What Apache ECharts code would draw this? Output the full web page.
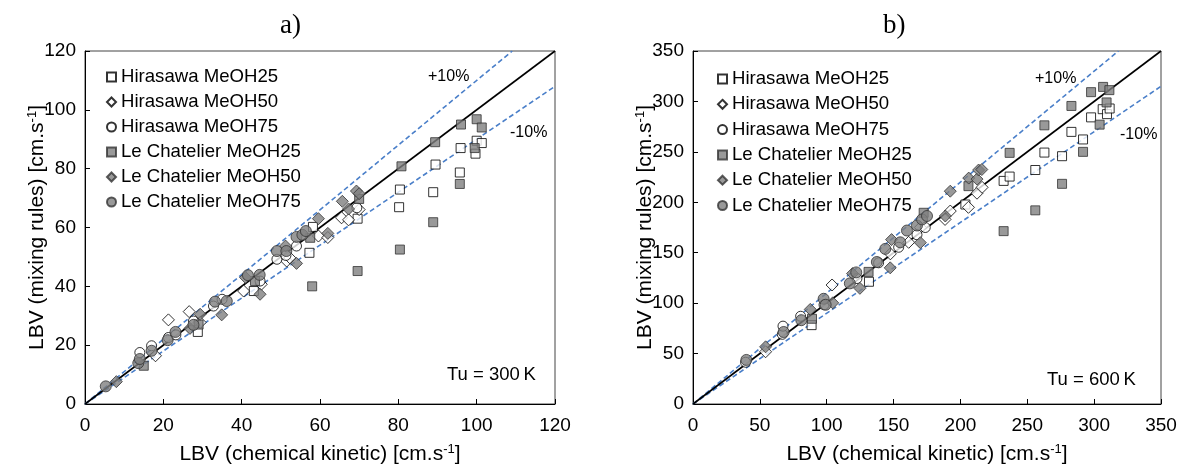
<!DOCTYPE html>
<html><head><meta charset="utf-8">
<script src="https://cdn.jsdelivr.net/npm/echarts@6/dist/echarts.min.js"></script>
<style>html,body{margin:0;padding:0;background:#fff}#c{width:1185px;height:470px}</style>
</head><body><div id="c"></div>
<script>
// ---- data: panel a) Tu = 300 K ----
const h25A = [[28.8,24.5],[43.1,38.4],[57.3,51.4],[58.2,60.2],[69.6,63],[80.4,72.9],[80.2,66.9],[88.9,72],[89.5,81.4],[95.9,87],[95.7,78.7],[100,89.5],[101.3,88.7],[99.7,85.1]];
const h50A = [[18,16.4],[21.3,28.6],[26.6,31.4],[29.4,27.7],[40.5,38.4],[45,40.7],[51.5,48.6],[52.3,49.7],[59.6,57.1],[62,56.6],[65.5,63.3],[67.3,62.6],[70,66.1]];
const h75A = [[14,17.5],[17,19.8],[21.3,22.6],[23.2,23.5],[27.7,28.2],[32.8,33.3],[35,35.6],[44.7,41.8],[49,49.2],[51.3,50.5],[54,53.7],[69.4,66.7]];
const lc25A = [[15,13],[29,27],[43.4,41.8],[57.5,56.5],[70,69.7],[80.8,80.8],[89.4,89],[96,95],[100,96.8],[101.3,94],[99.5,87],[58,40],[69.6,45.2],[80.4,52.5],[88.9,61.8],[95.7,74.8]];
const lc50A = [[8,7.6],[26.8,25.7],[29.4,30.5],[34.9,30.3],[41,43],[44.7,37.3],[51.2,53.7],[54,47.8],[59.6,63],[62,58],[65.7,68.9],[67.3,66.3],[69.3,72.4],[70,71.5]];
const lc75A = [[5.3,6],[13.6,13.9],[14,15.3],[17,18.1],[21.1,21.7],[23.1,24.5],[27.7,26.9],[33.2,34.8],[36.2,35],[41.6,43.8],[44.6,43.9],[49,52],[51.4,52],[54,56.8],[55.5,57.5],[56.4,58.8]];
// ---- data: panel b) Tu = 600 K ----
const h25B = [[88.7,78.2],[131.6,121.2],[203.7,197.8],[232.3,221.2],[236.8,225.5],[256,232],[262.8,249.3],[276,245.7],[283,269.8],[291.7,262.3],[297.7,284.2],[306.4,292.3],[309.6,287.4],[311.6,293]];
const h50B = [[54.3,51.8],[104,118],[147.6,148.9],[161.3,160.3],[170,175],[188.5,183],[192.4,191.3],[206,195],[212.4,209],[216.2,214.8]];
const h75B = [[39.3,41.4],[66.8,69.1],[67.3,77.2],[80.5,87],[98,98.4],[122.6,124.4],[138.8,140],[153.8,155.4],[167.5,167.8],[173.7,175]];
const lc25B = [[89,84.5],[131.3,131],[172.5,189.6],[206,216],[232.3,171.4],[236.8,249],[256,192],[262.8,276.3],[276,218.3],[283,295.5],[291.7,250],[297.7,309.2],[304.1,277],[306.7,314.4],[309.3,299],[311.4,311.2]];
const lc50B = [[54.3,56.7],[87.7,93.8],[104.5,100.3],[119.3,129.3],[124.8,114.7],[147.5,135],[148.5,163],[170,160],[188.7,186.4],[192.4,211],[206.2,224],[212.4,223],[213.6,232],[216,232.5]];
const lc75B = [[39.9,43.7],[67.8,71.4],[81,83.1],[97.7,104.3],[99.2,98.4],[117.3,119.6],[122.1,130.5],[137.5,140.8],[143.8,153.8],[155,160.3],[160,172],[167.5,177],[171.3,183],[175,186.4]];

const seriesNames = ['Hirasawa MeOH25','Hirasawa MeOH50','Hirasawa MeOH75','Le Chatelier MeOH25','Le Chatelier MeOH50','Le Chatelier MeOH75'];
const axisMaxA = 120, axisMaxB = 350;
const tickA = 20, tickB = 50;

const FONT = 'Liberation Sans, Arial, sans-serif';
const white = {color:'#fff', borderColor:'#000', borderWidth:1};
const grey = {color:'#7f7f7f', borderColor:'#333', borderWidth:1};
const styles = [
  {symbol:'rect', size:9, it:white},
  {symbol:'diamond', size:12, it:white},
  {symbol:'circle', size:10, it:white},
  {symbol:'rect', size:9, it:grey},
  {symbol:'diamond', size:12, it:grey},
  {symbol:'circle', size:11, it:grey}
];

function refLines(idx, max){
  const mk = (k, style) => ({type:'line', xAxisIndex:idx, yAxisIndex:idx, silent:true, symbol:'none',
    data:[[0,0], k>1 ? [max/k,max] : [max,k*max]],
    lineStyle:style, z:1, animation:false});
  return [
    mk(1.1,{color:'#4a7fc9', width:1.6, type:[5,3]}),
    mk(0.9,{color:'#4a7fc9', width:1.6, type:[5,3]}),
    mk(1.0,{color:'#000', width:1.6})
  ];
}
function scatter(idx, arrs){
  return arrs.map((d,i)=>({type:'scatter', name:seriesNames[i], xAxisIndex:idx, yAxisIndex:idx,
    data:d, symbol:styles[i].symbol, symbolSize:styles[i].size, itemStyle:styles[i].it, z:3+i, animation:false}));
}
const nameRich = {sup:{fontSize:13, fontFamily:FONT, color:'#000', padding:[0,0,10,0]}};
function xAx(idx, max, iv){
  return {type:'value', gridIndex:idx, min:0, max:max, interval:iv,
    axisLine:{lineStyle:{color:'#000', width:1}}, axisTick:{inside:true, length:5, lineStyle:{color:'#000'}},
    splitLine:{show:false}, axisLabel:{color:'#000', fontSize:19, fontFamily:FONT, margin:12},
    name:'LBV (chemical kinetic) [cm.s{sup|-1}]', nameLocation:'middle', nameGap:39, nameMoveOverlap:false,
    nameTextStyle:{color:'#000', fontSize:21, fontFamily:FONT, rich:nameRich}};
}
function yAx(idx, max, iv){
  return {type:'value', gridIndex:idx, min:0, max:max, interval:iv,
    axisLine:{lineStyle:{color:'#000', width:1}}, axisTick:{inside:true, length:5, lineStyle:{color:'#000'}},
    splitLine:{show:false}, axisLabel:{color:'#000', fontSize:19, fontFamily:FONT, margin:9},
    name:'LBV (mixing rules) [cm.s{sup|-1}]', nameLocation:'middle', nameGap:36, nameMoveOverlap:false,
    nameTextStyle:{color:'#000', fontSize:21, fontFamily:FONT, rich:nameRich}};
}
function legend(left, top, gap){
  return {orient:'vertical', left:left, top:top, itemWidth:9, itemHeight:9, itemGap:gap,
    data:seriesNames, textStyle:{color:'#000', fontSize:18.6, fontFamily:FONT, lineHeight:20}, selectedMode:false};
}
function txt(x,y,t,size,family,align){
  return {type:'text', left:x, top:y, style:{text:t, fill:'#000', font:size+'px '+family, textAlign:align||'left'}};
}

const chart = echarts.init(document.getElementById('c'), null, {renderer:'canvas'});
chart.setOption({
  animation:false,
  backgroundColor:'#fff',
  grid:[
    {left:85, top:51, width:470, height:354, show:true, borderColor:'#444', borderWidth:1, backgroundColor:'transparent'},
    {left:693, top:51, width:468, height:358, show:true, borderColor:'#444', borderWidth:1, backgroundColor:'transparent'}
  ],
  xAxis:[xAx(0, axisMaxA, tickA), xAx(1, axisMaxB, tickB)],
  yAxis:[yAx(0, axisMaxA, tickA), yAx(1, axisMaxB, tickB)],
  legend:[legend(101, 62, 5), legend(712, 64, 5.3)],
  series:[].concat(refLines(0, axisMaxA), refLines(1, axisMaxB),
    scatter(0,[h25A,h50A,h75A,lc25A,lc50A,lc75A]),
    scatter(1,[h25B,h50B,h75B,lc25B,lc50B,lc75B])),
  graphic:[
    txt(280, 12, 'a)', 27, 'Liberation Serif, Times New Roman, serif'),
    txt(883, 12, 'b)', 27, 'Liberation Serif, Times New Roman, serif'),
    txt(428, 69, '+10%', 16, FONT),
    txt(510, 125, '-10%', 16, FONT),
    txt(1035, 71, '+10%', 16, FONT),
    txt(1120, 127, '-10%', 16, FONT),
    txt(447, 365, 'Tu = 300\u2009K', 18.5, FONT),
    txt(1047, 370, 'Tu = 600\u2009K', 18.5, FONT)
  ]
});
</script></body></html>
